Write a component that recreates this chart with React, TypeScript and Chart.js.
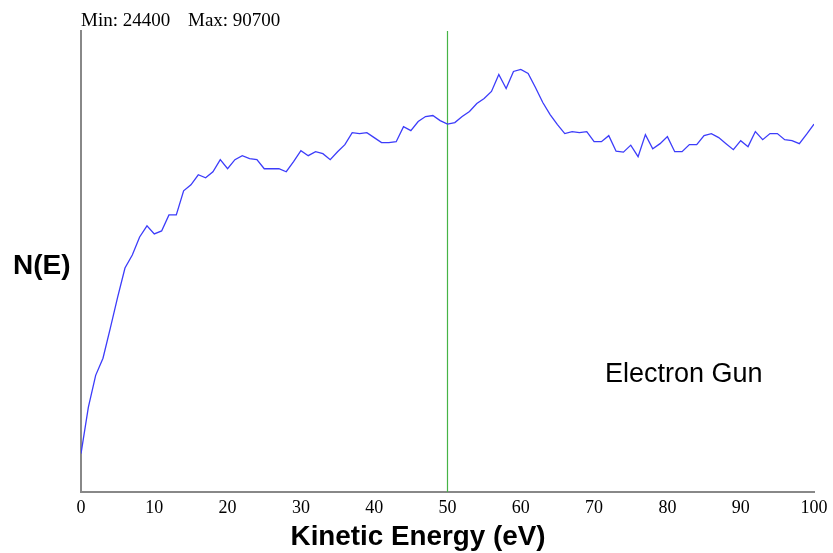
import React, { useEffect, useRef } from "react";
import { Chart, registerables } from "chart.js";

Chart.register(...registerables);

// Kinetic energy (eV) sample positions
const energies: number[] = Array.from({ length: 101 }, (_, i) => i);

// N(E) counts, one per eV
const counts: number[] = [
  24400, 32360, 37900, 40850, 46040, 51400, 56420, 58670, 61790, 63690,
  62310, 62830, 65600, 65600, 69750, 70790, 72520, 72000, 73040, 75120,
  73560, 75120, 75810, 75290, 75120, 73560, 73560, 73560, 73040, 74770,
  76680, 75810, 76500, 76160, 75120, 76500, 77720, 79790, 79620, 79790,
  78930, 78060, 78060, 78230, 80830, 80140, 81700, 82560, 82740, 81870,
  81260, 81520, 82560, 83430, 84810, 85680, 86890, 89830, 87410, 90350,
  90700, 90000, 87580, 84990, 82910, 81180, 79620, 79970, 79790, 79970,
  78230, 78230, 79270, 76590, 76420, 77630, 75640, 79450, 77020, 77890,
  79100, 76500, 76500, 77720, 77720, 79270, 79620, 78930, 77890, 76850,
  78410, 77370, 79970, 78580, 79620, 79620, 78580, 78410, 77890, 79530,
  81260,
];

// Marker line position (eV)
const markerEnergy: number[] = [50];

// X tick settings
const xRange: number[] = [0, 100];
const xStep = 10;

const labelText = "Electron Gun";
const xTitle = "Kinetic Energy (eV)";
const yTitle = "N(E)";

export default function App() {
  const canvasRef = useRef<HTMLCanvasElement | null>(null);

  useEffect(() => {
    document.body.style.margin = "0";
    const canvas = canvasRef.current;
    if (!canvas) return;

    const minV = Math.min(...counts);
    const maxV = Math.max(...counts);
    const pad = (maxV - minV) * 0.1;
    const yMin = minV - pad;
    const yMax = maxV + pad;

    const textPlugin = {
      id: "texts",
      afterDraw(chart: any) {
        const ctx = chart.ctx as CanvasRenderingContext2D;
        ctx.save();
        ctx.fillStyle = "#000";
        ctx.textBaseline = "alphabetic";
        ctx.textAlign = "left";
        ctx.font = "19px 'Liberation Serif', serif";
        ctx.fillText(`Min: ${minV}`, 81, 26);
        ctx.fillText(`Max: ${maxV}`, 188, 26);
        ctx.font = "bold 28px 'Liberation Sans', Arial, sans-serif";
        ctx.fillText(yTitle, 13, 274);
        ctx.font = "27px 'Liberation Sans', Arial, sans-serif";
        ctx.fillText(labelText, 605, 382);
        ctx.font = "bold 27.8px 'Liberation Sans', Arial, sans-serif";
        ctx.textAlign = "center";
        ctx.fillText(xTitle, 418, 545);
        ctx.restore();
      },
    };

    const chart = new Chart(canvas, {
      type: "line",
      data: {
        datasets: [
          {
            data: energies.map((e, i) => ({ x: e, y: counts[i] })),
            borderColor: "rgb(60,60,250)",
            borderWidth: 1.3,
            pointRadius: 0,
            tension: 0,
            fill: false,
          },
          {
            data: [
              { x: markerEnergy[0], y: yMin },
              { x: markerEnergy[0], y: yMax },
            ],
            borderColor: "rgb(70,180,70)",
            borderWidth: 1.2,
            pointRadius: 0,
            fill: false,
          },
        ],
      },
      options: {
        animation: false,
        responsive: false,
        events: [],
        layout: { padding: { top: 31, right: 19, left: 0, bottom: 0 } },
        plugins: {
          legend: { display: false },
          tooltip: { enabled: false },
          title: { display: false },
        },
        scales: {
          x: {
            type: "linear",
            min: xRange[0],
            max: xRange[1],
            grid: { display: false, drawTicks: false },
            border: { display: true, color: "#888", width: 2 },
            ticks: {
              stepSize: xStep,
              color: "#000",
              padding: 5,
              maxRotation: 0,
              autoSkip: false,
              font: { family: "'Liberation Serif', serif", size: 18 },
            },
            afterFit(scale: any) {
              scale.height = 61;
            },
          },
          y: {
            type: "linear",
            min: yMin,
            max: yMax,
            grid: { display: false, drawTicks: false },
            border: { display: true, color: "#888", width: 2 },
            ticks: { display: false },
            afterFit(scale: any) {
              scale.width = 81;
            },
          },
        },
      },
      plugins: [textPlugin],
    });

    return () => {
      chart.destroy();
    };
  }, []);

  return (
    <div style={{ position: "absolute", left: 0, top: 0, width: 833, height: 553, background: "#fff" }}>
      <canvas ref={canvasRef} width={833} height={553} style={{ width: 833, height: 553, display: "block" }} />
    </div>
  );
}
